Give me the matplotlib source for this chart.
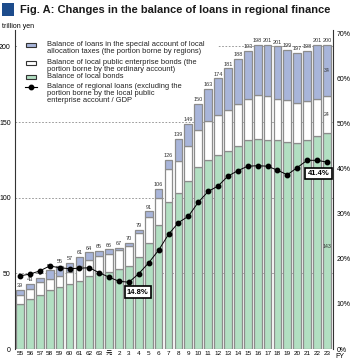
import numpy as np
import matplotlib.pyplot as plt
from matplotlib.patches import Rectangle
from matplotlib.lines import Line2D

FIG_W, FIG_H, DPI = 350, 359, 100

years = ["55", "56", "57", "58", "59", "60", "61", "62", "63", "元",
         "2", "3", "4", "5", "6", "7", "8", "9", "10", "11", "12", "13",
         "14", "15", "16", "17", "18", "19", "20", "21", "22", "23"]

# stacked segments (trillion yen)
local_bonds = [30, 33, 36, 39, 41, 43, 45, 48, 50, 51, 53, 55, 61, 70, 82, 97,
               103, 111, 120, 125, 128, 131, 134, 138, 139, 138.5, 138, 137, 136, 138, 141, 143]
enterprise_bonds = [6, 6.5, 8, 7.5, 7, 8, 10, 11, 11.5, 11.5, 12.4, 13.4, 16, 17, 18, 22,
                    21, 23, 25, 26, 27, 27, 28, 27.5, 29, 28.5, 27.5, 27.5, 26.7, 26, 24.5, 24]
special_account = [3, 3.5, 3, 5.5, 7, 6, 6, 5, 3.5, 3.5, 1.6, 1.6, 2, 4, 6, 6,
                   15, 15, 17, 21, 24, 27.5, 30, 31.5, 33, 34, 34.5, 33.5, 33.3, 33, 35.5, 34]
total_labels = ["39", "43", "47", "52", "55", "57", "61", "64", "65", "66", "67", "70",
                "79", "91", "106", "126", "139", "149", "150", "163", "174", "181", "188",
                "193", "198", "201", "201", "199", "197", "198", "201", "200"]

# balance of regional loans / GDP (%)
gdp_ratio = [16.2, 16.6, 17.3, 18.4, 18.0, 17.8, 17.9, 18.0, 16.9, 15.9, 15.0, 14.8,
             16.7, 19.1, 21.9, 25.4, 28.0, 29.4, 32.5, 34.9, 36.1, 38.3, 39.5, 40.5,
             40.6, 40.5, 39.6, 38.6, 40.2, 41.8, 41.8, 41.4]

BLUE = "#a8b5da"
GREEN = "#b2dfc2"
EDGE = "#8c8c8c"
NAVY = "#1d4c8c"
SMALL = 5
LEGEND_SIZE = 5.4

plt.rcParams['font.family'] = ['Liberation Sans', 'Noto Sans CJK JP', 'DejaVu Sans']


def fx(x):
    return x / FIG_W


def fy(y):
    return 1 - y / FIG_H


fig = plt.figure(figsize=(FIG_W / DPI, FIG_H / DPI), dpi=DPI)
ax = fig.add_axes([fx(15), fy(349), fx(333) - fx(15), fy(30) - fy(349)])
xs = np.arange(len(years))
local_bonds = np.array(local_bonds)
enterprise_bonds = np.array(enterprise_bonds)
special_account = np.array(special_account)
totals = local_bonds + enterprise_bonds + special_account

bar_kw = dict(width=0.78, edgecolor=EDGE, linewidth=0.9)
ax.bar(xs, local_bonds, color=GREEN, **bar_kw)
ax.bar(xs, enterprise_bonds, bottom=local_bonds, color="white", **bar_kw)
ax.bar(xs, special_account, bottom=local_bonds + enterprise_bonds, color=BLUE, **bar_kw)

for x, t, lab in zip(xs, totals, total_labels):
    ax.annotate(lab, (x, t), xytext=(0, 1.2), textcoords="offset points",
                ha="center", va="bottom", fontsize=4, color="#333333")

last = len(xs) - 1
ax.text(last, local_bonds[last] / 2 - 4, "143", ha="center", va="center", fontsize=3.8, color="#333333")
ax.text(last, local_bonds[last] + enterprise_bonds[last] / 2, "24", ha="center", va="center",
        fontsize=3.8, color="#333333")
ax.text(last, local_bonds[last] + enterprise_bonds[last] + special_account[last] / 2, "34",
        ha="center", va="center", fontsize=3.8, color="#333333")

ax.set_xlim(-0.505, 31.61)
ax.set_ylim(0, 210.9)
ax.set_yticks([0, 50, 100, 150, 200])
ax.set_axisbelow(True)
ax.grid(axis="y", linestyle=(0, (2, 2)), color="#8a8a8a", linewidth=0.6)
ax.yaxis.get_gridlines()[0].set_visible(False)
ax.set_xticks(xs, years)
ax.tick_params(axis="x", length=0, pad=1.5, labelsize=4.6)
ax.tick_params(axis="y", length=0, pad=3, labelsize=SMALL)
for side in ["top", "bottom", "right"]:
    ax.spines[side].set_visible(False)
ax.spines["left"].set_color("#333333")
ax.spines["left"].set_linewidth(0.8)

# white panel behind the legend hides the grid line
ax.add_patch(Rectangle((fx(17), fy(110)), fx(218) - fx(17), fy(37) - fy(110),
                       transform=fig.transFigure, facecolor="white", edgecolor="none", zorder=0.8))

ax2 = ax.twinx()
ax2.plot(xs, gdp_ratio, color="black", linewidth=0.7, marker="o", markersize=3.2)
ax2.set_ylim(0, 70.67)
ax2.set_yticks(range(0, 71, 10), [f"{v}%" for v in range(0, 71, 10)])
ax2.tick_params(axis="y", length=0, pad=2.5, labelsize=SMALL)
for side in ["top", "bottom", "left"]:
    ax2.spines[side].set_visible(False)
ax2.spines["right"].set_color("#333333")
ax2.spines["right"].set_linewidth(0.8)

box = dict(boxstyle="square,pad=0.3", facecolor="white", edgecolor="black", linewidth=1.2)
ax2.annotate("14.8%", (11, gdp_ratio[11]), xytext=(6.3, -7.2), textcoords="offset points",
             ha="center", va="center", fontsize=5.5, fontweight="bold", bbox=box)
ax2.annotate("41.4%", (31, gdp_ratio[31]), xytext=(-6, -8.3), textcoords="offset points",
             ha="center", va="center", fontsize=5.5, fontweight="bold", bbox=box)

# legend
legend_items = [
    ("patch", BLUE, 45, "Balance of loans in the special account of local\n"
                        "allocation taxes (the portion borne by regions)"),
    ("patch", "white", 63, "Balance of local public enterprise bonds (the\n"
                           "portion borne by the ordinary account)"),
    ("patch", GREEN, 77, "Balance of local bonds"),
    ("line", "black", 87, "Balance of regional loans (excluding the\n"
                          "portion borne by the local public\nenterprise account / GDP"),
]
for kind, color, y, label in legend_items:
    if kind == "patch":
        fig.add_artist(Rectangle((fx(26), fy(y + 2)), fx(36) - fx(26), fy(y - 2) - fy(y + 2),
                                 transform=fig.transFigure, facecolor=color,
                                 edgecolor="#333333", linewidth=0.8))
    else:
        fig.add_artist(Line2D([fx(25), fx(37)], [fy(y), fy(y)], transform=fig.transFigure,
                              color=color, linewidth=0.8))
        fig.add_artist(Line2D([fx(31)], [fy(y)], transform=fig.transFigure, color=color,
                              marker="o", markersize=3.2))
    fig.text(fx(47), fy(y - 4.5), label, ha="left", va="top", fontsize=LEGEND_SIZE,
             linespacing=1.02, color="#222222")

# header
fig.add_artist(Rectangle((fx(2), fy(16)), fx(14) - fx(2), fy(3) - fy(16),
                         transform=fig.transFigure, facecolor=NAVY, edgecolor="none"))
title = fig.text(fx(20), fy(10), "Fig. A: Changes in the balance of loans in regional finance",
                 ha="left", va="center", fontsize=8, fontweight="bold", color="#1a1a1a")
fig.canvas.draw()
width = title.get_window_extent().width
title.set_fontsize(8 * 310 / width)

fig.text(fx(2), fy(27), "trillion yen", ha="left", va="center", fontsize=SMALL)
fig.text(fx(340), fy(356), "FY", ha="center", va="center", fontsize=SMALL)

fig.savefig("out.png", dpi=DPI)
